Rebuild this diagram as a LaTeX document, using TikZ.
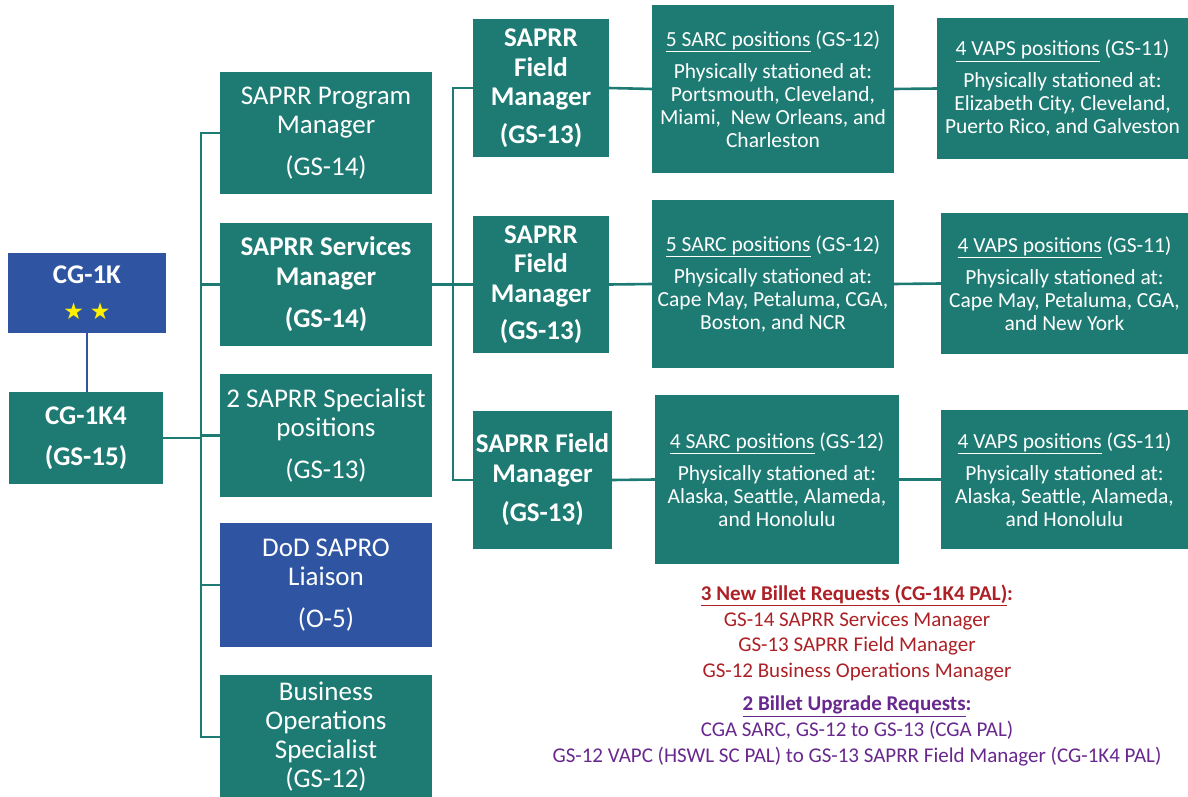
\documentclass[tikz,border=0pt]{standalone}
\usepackage{fontspec}
\setmainfont{Carlito}
\newfontfamily\starfont{DejaVu Sans}
\usepackage{tikz}
\definecolor{cgteal}{RGB}{30,123,115}
\definecolor{cgblue}{RGB}{47,85,162}
\definecolor{cgstar}{RGB}{255,240,0}
\definecolor{reqred}{RGB}{172,32,38}
\definecolor{reqpurple}{RGB}{104,40,142}

\begin{document}
\begin{tikzpicture}[x=1pt,y=-1pt,
	  box/.style={fill=cgteal,text=white,inner sep=0pt,outer sep=0pt,align=center,font=\fontsize{27}{29}\selectfont},
	  boldbox/.style={box,font=\bfseries\fontsize{27}{29.5}\selectfont},
	  bluebox/.style={box,fill=cgblue},
	  postbox/.style={box,font=\fontsize{21.5}{23}\selectfont},
	  request/.style={align=center,inner sep=0pt,font=\fontsize{21}{25.7}\selectfont},
	  link/.style={draw=cgteal,line width=2.6pt},
	  ]
	  \useasboundingbox (0,0) rectangle (1188,797);
	  % command
	  \node[bluebox,font=\bfseries\fontsize{27}{29}\selectfont,minimum width=158pt,minimum height=80pt] (cg1k) at (87,293)
	    {CG-1K\\[7pt]{\starfont\fontsize{23}{23}\selectfont\color{cgstar}★\hspace{6pt}★}};
	  \node[boldbox,minimum width=154pt,minimum height=92pt] (k4) at (86,438) {CG-1K4\\[11pt](GS-15)};
	  % staff column
	  \node[box,minimum width=212pt,minimum height=122pt] (prog) at (326,133) {SAPRR Program\\Manager\\[13pt](GS-14)};
	  \node[boldbox,minimum width=212pt,minimum height=123pt] (svc) at (326,284.5) {SAPRR Services\\Manager\\[13pt](GS-14)};
	  \node[box,minimum width=212pt,minimum height=123pt] (spec) at (326,435.5) {2 SAPRR Specialist\\positions\\[13pt](GS-13)};
	  \node[bluebox,minimum width=212pt,minimum height=124pt] (dod) at (326,585) {DoD SAPRO\\Liaison\\[13pt](O-5)};
	  \node[box,minimum width=212pt,minimum height=124pt] (biz) at (326,737) {Business\\Operations\\Specialist\\(GS-12)};
	  % field managers
	  \node[boldbox,minimum width=136pt,minimum height=138pt] (fm1) at (541,88) {SAPRR\\Field\\Manager\\[8pt](GS-13)};
	  \node[boldbox,minimum width=136pt,minimum height=137pt] (fm2) at (541,284.5) {SAPRR\\Field\\Manager\\[8pt](GS-13)};
	  \node[boldbox,minimum width=139pt,minimum height=138pt] (fm3) at (542.5,480) {SAPRR Field\\Manager\\[10pt](GS-13)};
	  % SARC positions
	  \node[postbox,minimum width=242pt,minimum height=168pt] (sarc1) at (773,89)
	    {\underline{5 SARC positions} (GS-12)\\[9pt]Physically stationed at:\\Portsmouth, Cleveland,\\Miami,\ \ New Orleans, and\\Charleston};
	  \node[postbox,minimum width=242pt,minimum height=168pt] (sarc2) at (773,284)
	    {\underline{5 SARC positions} (GS-12)\\[9pt]Physically stationed at:\\Cape May, Petaluma, CGA,\\Boston, and NCR};
	  \node[postbox,minimum width=244pt,minimum height=169pt] (sarc3) at (777,479.5)
	    {\underline{4 SARC positions} (GS-12)\\[9pt]Physically stationed at:\\Alaska, Seattle, Alameda,\\and Honolulu};
	  % VAPS positions
	  \node[postbox,minimum width=251pt,minimum height=141pt] (vaps1) at (1062.5,88.5)
	    {\underline{4 VAPS positions} (GS-11)\\[9pt]Physically stationed at:\\Elizabeth City, Cleveland,\\Puerto Rico, and Galveston};
	  \node[postbox,minimum width=247pt,minimum height=141pt] (vaps2) at (1064.5,283.5)
	    {\underline{4 VAPS positions} (GS-11)\\[9pt]Physically stationed at:\\Cape May, Petaluma, CGA,\\and New York};
	  \node[postbox,minimum width=247pt,minimum height=139pt] (vaps3) at (1064.5,479.5)
	    {\underline{4 VAPS positions} (GS-11)\\[9pt]Physically stationed at:\\Alaska, Seattle, Alameda,\\and Honolulu};
	  % billet requests
	  \node[request,text=reqred] (newreq) at (857,633)
	    {\textbf{\underline{3 New Billet Requests (CG-1K4 PAL)}:}\\GS-14 SAPRR Services Manager\\GS-13 SAPRR Field Manager\\GS-12 Business Operations Manager};
	  \node[request,text=reqpurple] (upgrade) at (857,731)
	    {\textbf{\underline{2 Billet Upgrade Requests}:}\\CGA SARC, GS-12 to GS-13 (CGA PAL)\\GS-12 VAPC (HSWL SC PAL) to GS-13 SAPRR Field Manager (CG-1K4 PAL)};
	  % connectors
	  \coordinate (busL) at (201,0);
	  \coordinate (busR) at (453,0);
	  \draw[cgblue,line width=2.6pt] (cg1k.south) -- (cg1k.south |- k4.north);
	  \draw[link] (k4.east) -- (k4.east -| busL);
	  \draw[link] (prog.west) -- (prog.west -| busL) |- (biz.west);
	  \foreach \n in {svc,spec,dod}
	    \draw[link] (\n.west) -- (\n.west -| busL);
	  \draw[link] (fm1.west) -- (fm1.west -| busR) |- (fm3.west);
	  \draw[link] (svc.east) -- (fm2.west);
	  \foreach \r in {1,2,3} {
	    \draw[link] (fm\r.east) -- (sarc\r.west);
	    \draw[link] (sarc\r.east) -- (vaps\r.west);
	  }
	\end{tikzpicture}
\end{document}
